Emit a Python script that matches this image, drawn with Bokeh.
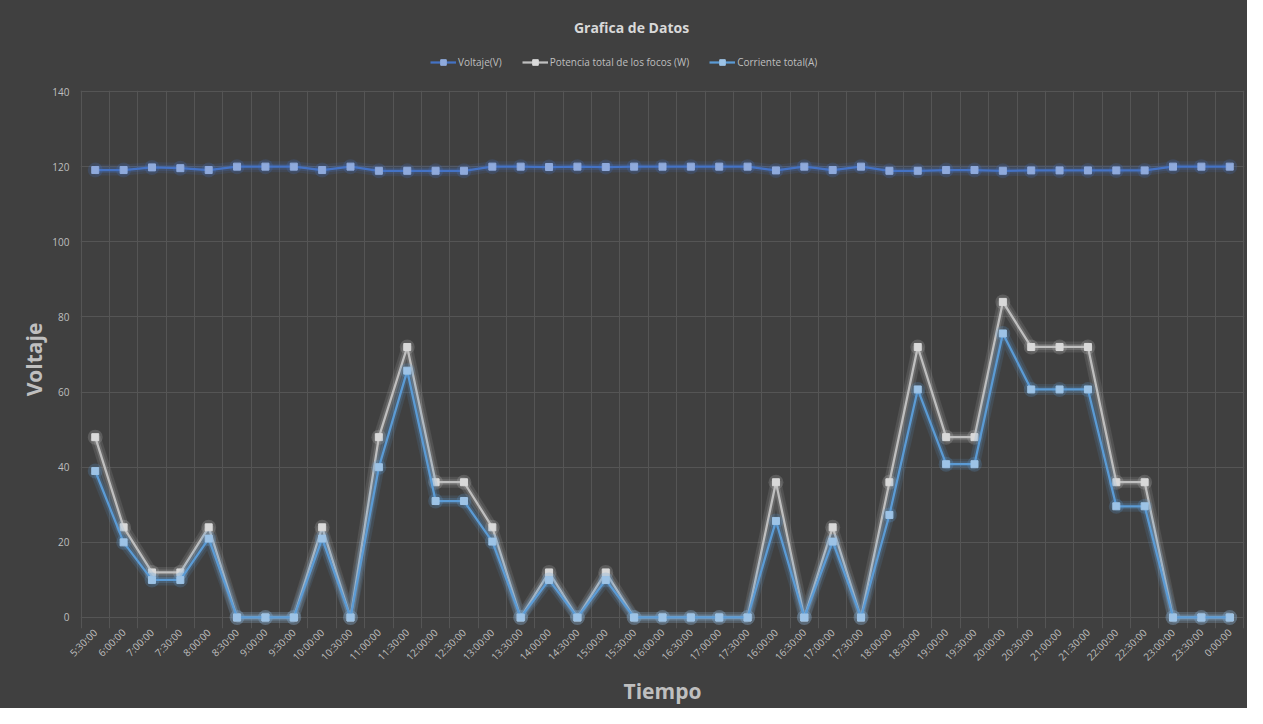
import math
from bokeh.plotting import figure
from bokeh.layouts import column
from bokeh.models import (ColumnDataSource, FixedTicker, Legend, LegendItem, Label)
from bokeh.embed import file_html
from bokeh.resources import INLINE

# ---- data ----
time_labels = ["5:30:00", "6:00:00", "7:00:00", "7:30:00", "8:00:00", "8:30:00", "9:00:00",
               "9:30:00", "10:00:00", "10:30:00", "11:00:00", "11:30:00", "12:00:00", "12:30:00",
               "13:00:00", "13:30:00", "14:00:00", "14:30:00", "15:00:00", "15:30:00", "16:00:00",
               "16:30:00", "17:00:00", "17:30:00", "16:00:00", "16:30:00", "17:00:00", "17:30:00",
               "18:00:00", "18:30:00", "19:00:00", "19:30:00", "20:00:00", "20:30:00", "21:00:00",
               "21:30:00", "22:00:00", "22:30:00", "23:00:00", "23:30:00", "0:00:00"]

voltaje = [119.1, 119.1, 119.8, 119.6, 119.1, 120, 120, 120, 119.1, 120,
           118.9, 118.9, 118.9, 118.9, 120, 120, 119.9, 120, 119.9, 120,
           120, 120, 120, 120, 119, 120, 119.1, 120, 118.9, 118.9,
           119.1, 119.1, 118.9, 119, 119, 119, 119, 119, 120, 120, 120]

potencia = [48, 24, 12, 12, 24, 0, 0, 0, 24, 0,
            48, 72, 36, 36, 24, 0, 12, 0, 12, 0,
            0, 0, 0, 0, 36, 0, 24, 0, 36, 72,
            48, 48, 84, 72, 72, 72, 36, 36, 0, 0, 0]

corriente = [39, 20, 10, 10, 21, 0, 0, 0, 21, 0,
             40, 65.7, 31, 31, 20.2, 0, 10, 0, 10, 0,
             0, 0, 0, 0, 25.7, 0, 20.2, 0, 27.3, 60.7,
             40.8, 40.8, 75.6, 60.7, 60.7, 60.7, 29.6, 29.6, 0, 0, 0]

y_ticks = [0, 20, 40, 60, 80, 100, 120, 140]

series_names = ["Voltaje(V)", "Potencia total de los focos (W)", "Corriente total(A)"]

idx = list(range(len(time_labels)))
src = ColumnDataSource(dict(x=idx, v=voltaje, p=potencia, c=corriente))

BG = "#404040"
TXT = "#bfbfbf"
FONT = "Open Sans"
W = 1247

styles = [("v", "#4472C4", "#8FAADC"),
          ("p", "#BFBFBF", "#D9D9D9"),
          ("c", "#5B9BD5", "#9DC3E6")]

# ---------- header figure: title + legend ----------
head = figure(width=W, height=81, output_backend="svg", toolbar_location=None,
              x_range=(-0.5, len(idx) - 0.5), y_range=(1000, 1001),
              x_axis_location=None, y_axis_location=None,
              background_fill_color=BG, border_fill_color=BG,
              min_border=0, min_border_left=0, min_border_right=0,
              min_border_top=0, min_border_bottom=0)
head.grid.visible = False
head.outline_line_color = None

items = []
for (col, lc, mc), name in zip(styles, series_names):
    ln = head.line("x", col, source=src, line_color=lc, line_width=2.25)
    mk = head.scatter("x", col, source=src, marker="square", size=7,
                      fill_color=mc, line_color=mc)
    items.append(LegendItem(label=name, renderers=[ln, mk]))

# the header frame is aligned with the main chart frame (which starts 80px in)
legend = Legend(items=items, orientation="horizontal", location=(350, 12),
                background_fill_alpha=0, border_line_color=None,
                label_text_color=TXT, label_text_font=FONT, label_text_font_size="10px",
                glyph_width=26, glyph_height=14, spacing=20, padding=2, margin=0,
                label_standoff=2)
head.add_layout(legend, "center")

head.add_layout(Label(x=551, y=54, x_units="screen", y_units="screen",
                      text="Grafica de Datos", text_align="center", text_baseline="middle",
                      text_color="#d9d9d9", text_font=FONT, text_font_style="bold",
                      text_font_size="14px"))

# ---------- main chart ----------
p = figure(width=W, height=627, output_backend="svg", toolbar_location=None,
           x_range=(-0.52, len(idx) - 0.48), y_range=(-2.93, 140.27),
           background_fill_color=BG, border_fill_color=BG,
           min_border_left=80, min_border_right=3, min_border_top=9, min_border_bottom=80)
p.outline_line_color = None

p.ygrid.ticker = FixedTicker(ticks=y_ticks)
p.xgrid.ticker = FixedTicker(ticks=[i - 0.5 for i in range(len(idx) + 1)])
p.xgrid.grid_line_color = "#555555"
p.ygrid.grid_line_color = "#555555"

p.xaxis.ticker = FixedTicker(ticks=idx)
p.xaxis.major_label_overrides = {i: lab for i, lab in enumerate(time_labels)}
p.xaxis.major_label_orientation = math.pi / 4
p.yaxis.ticker = FixedTicker(ticks=y_ticks)
for ax in (p.xaxis[0], p.yaxis[0]):
    ax.axis_line_color = None
    ax.major_tick_line_color = None
    ax.minor_tick_line_color = None
    ax.major_tick_out = 0
    ax.major_label_text_color = TXT
    ax.major_label_text_font = FONT
    ax.major_label_text_font_size = "10px"
    ax.axis_label_text_color = TXT
    ax.axis_label_text_font = FONT
    ax.axis_label_text_font_style = "bold"
    ax.axis_label_text_font_size = "21px"
p.xaxis.major_label_standoff = 2
p.yaxis.major_label_standoff = 11
p.xaxis.axis_label = "Tiempo"
p.yaxis.axis_label = "Voltaje"
p.xaxis.axis_label_standoff = 6
p.yaxis.axis_label_standoff = 1

for col, lc, mc in styles:
    p.line("x", col, source=src, line_color=lc, line_width=11, line_alpha=0.14)
    p.line("x", col, source=src, line_color=lc, line_width=6, line_alpha=0.22)
    p.scatter("x", col, source=src, marker="circle", size=15, fill_color=lc,
              fill_alpha=0.22, line_color=None)
    p.line("x", col, source=src, line_color=lc, line_width=2.25)
    p.scatter("x", col, source=src, marker="square", size=7, fill_color=mc,
              line_color=mc, line_width=1)

layout = column(head, p, spacing=0, styles={"background-color": BG})
open("out.html", "w").write(file_html(layout, INLINE))
